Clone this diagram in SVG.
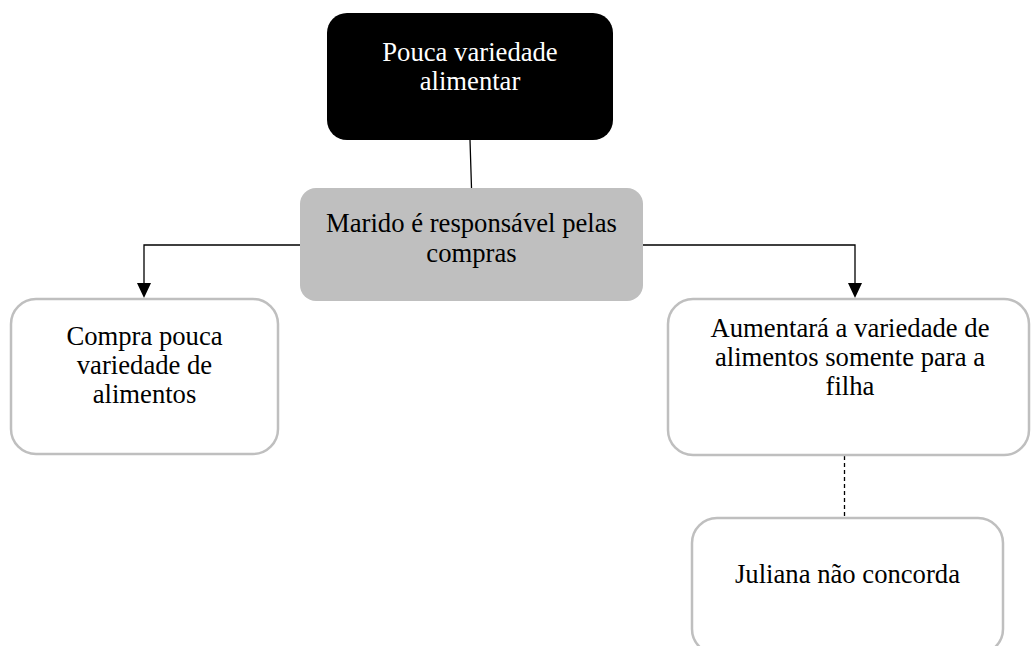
<svg xmlns="http://www.w3.org/2000/svg" width="1031" height="646" viewBox="0 0 1031 646">
  <style>
    .lbl { font-family: "Liberation Serif", "Times New Roman", serif; font-size: 26.67px; text-anchor: middle; fill: #000; }
    .lbl.inv { fill: #fff; }
    .outline { fill: #fff; stroke: #bfbfbf; stroke-width: 2.5; }
    .conn { fill: none; stroke: #000; stroke-width: 1.3; }
    .dash { stroke-dasharray: 4 3; }
    .head { fill: #000; }
  </style>

  <rect width="1031" height="646" fill="#fff"/>

  <!-- connectors -->
  <g id="connectors">
    <line class="conn" x1="470" y1="140" x2="471.5" y2="188"/>
    <polyline class="conn" points="300,245 144,245 144,283"/>
    <path class="head" d="M137,283 L151,283 L144,298 Z"/>
    <polyline class="conn" points="643,245 855,245 855,283"/>
    <path class="head" d="M848,283 L862,283 L855,298 Z"/>
    <line class="conn dash" x1="844.5" y1="456" x2="844.5" y2="518"/>
  </g>

  <!-- nodes -->
  <g id="node-pouca-variedade">
    <rect x="327" y="13" width="286" height="127" rx="20" ry="20" fill="#000"/>
    <text class="lbl inv" x="470" y="61">Pouca variedade</text>
    <text class="lbl inv" x="470" y="90">alimentar</text>
  </g>

  <g id="node-marido">
    <rect x="300" y="188" width="343" height="113" rx="16" ry="16" fill="#bfbfbf"/>
    <text class="lbl" x="471.5" y="232">Marido é responsável pelas</text>
    <text class="lbl" x="471.5" y="262">compras</text>
  </g>

  <g id="node-compra">
    <rect class="outline" x="11" y="299" width="267" height="155" rx="25" ry="25"/>
    <text class="lbl" x="144.5" y="345">Compra pouca</text>
    <text class="lbl" x="144.5" y="374">variedade de</text>
    <text class="lbl" x="144.5" y="403">alimentos</text>
  </g>

  <g id="node-aumentara">
    <rect class="outline" x="668" y="299" width="361" height="156" rx="25" ry="25"/>
    <text class="lbl" x="850" y="337">Aumentará a variedade de</text>
    <text class="lbl" x="850" y="366">alimentos somente para a</text>
    <text class="lbl" x="850" y="395">filha</text>
  </g>

  <g id="node-juliana">
    <rect class="outline" x="692" y="518" width="311" height="136" rx="25" ry="25"/>
    <text class="lbl" x="847.5" y="583">Juliana não concorda</text>
  </g>
</svg>
